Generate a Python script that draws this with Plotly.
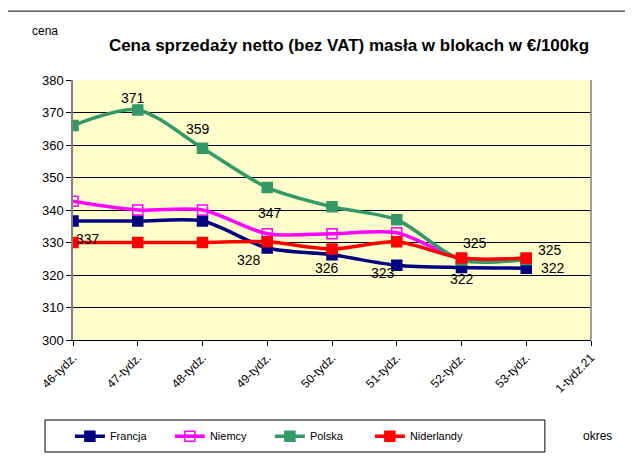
import plotly.graph_objects as go

categories = ["46-tydz.", "47-tydz.", "48-tydz.", "49-tydz.", "50-tydz.",
              "51-tydz.", "52-tydz.", "53-tydz.", "1-tydz.21"]
francja = [336.6, 336.6, 336.6, 328.3, 326.2, 323.0, 322.3, 322.1]
niemcy = [342.7, 340.0, 340.0, 332.7, 332.7, 333.0, 325.0, 325.0]
polska = [366.0, 370.8, 359.0, 346.9, 341.0, 337.0, 324.6, 324.8]
niderlandy = [330.0, 330.0, 330.0, 330.2, 328.0, 330.2, 325.2, 325.2]

series = [
    ("Francja", francja, "#000080", "square"),
    ("Niemcy", niemcy, "#FF00FF", "square-open"),
    ("Polska", polska, "#339966", "square"),
    ("Niderlandy", niderlandy, "#FF0000", "square"),
]

# data labels: (series values, category index, text, xshift, yshift)
labels = [
    (polska, 1, "371", -5, 12),
    (polska, 2, "359", -5, 19),
    (polska, 3, "347", 3, -25),
    (francja, 0, "337", 15, -18),
    (francja, 3, "328", -18, -12),
    (francja, 4, "326", -5, -13),
    (francja, 5, "323", -14, -8),
    (francja, 6, "322", 0, -11),
    (polska, 6, "325", 13, 17),
    (polska, 7, "325", 24, 9),
    (francja, 7, "322", 27, 0),
]

FONT = "Arial, Liberation Sans"

fig = go.Figure()
xs = list(range(len(categories)))
for name, vals, col, sym in series:
    fig.add_trace(go.Scatter(
        x=xs[:len(vals)], y=vals, name=name, mode="lines+markers",
        line=dict(color=col, width=3.5, shape="spline", smoothing=0.8),
        marker=dict(symbol=sym, size=10, color=col,
                    line=dict(color=col, width=1.5)),
    ))

for vals, idx, txt, dx, dy in labels:
    fig.add_annotation(x=idx, y=vals[idx], text=txt, showarrow=False,
                       xshift=dx, yshift=dy,
                       font=dict(family=FONT, size=14, color="#000"))

fig.add_annotation(xref="paper", yref="paper", x=-0.054, y=1.187, text="cena",
                   showarrow=False, xanchor="center", yanchor="middle",
                   font=dict(family=FONT, size=12, color="#000"))
fig.add_annotation(xref="paper", yref="paper", x=0.98, y=-0.37, text="okres",
                   showarrow=False, xanchor="left", yanchor="middle",
                   font=dict(family=FONT, size=12, color="#000"))

# outer chart border (left/top)
fig.add_shape(type="line", xref="paper", yref="paper", x0=-0.127, x1=-0.127,
              y0=1.265, y1=-0.6, line=dict(color="#000", width=1))
fig.add_shape(type="line", xref="paper", yref="paper", x0=-0.127, x1=1.2,
              y0=1.265, y1=1.265, line=dict(color="#000", width=1))
# plot area right border
fig.add_shape(type="line", xref="paper", yref="paper", x0=1, x1=1,
              y0=0, y1=1, line=dict(color="#808080", width=1.5))
# legend box
fig.add_shape(type="rect", xref="paper", yref="paper", x0=-0.054, x1=0.911,
              y0=-0.3077, y1=-0.4308, line=dict(color="#000", width=1))

fig.update_layout(
    width=625, height=456,
    margin=dict(l=65, r=42, t=72, b=124, autoexpand=False),
    paper_bgcolor="white",
    plot_bgcolor="#FFFFCC",
    font=dict(family=FONT, size=12, color="#000"),
    title=dict(text="<b>Cena sprzedaży netto (bez VAT) masła w blokach w €/100kg</b>",
               x=(349 - 8) / 625, xanchor="center", y=1 - (45 - 8) / 456, yanchor="middle",
               font=dict(family=FONT, size=17, color="#000")),
    showlegend=True,
    legend=dict(orientation="h", x=-0.006, y=-0.37, xanchor="left", yanchor="middle",
                borderwidth=0, bgcolor="rgba(0,0,0,0)",
                font=dict(family=FONT, size=11),
                entrywidth=55, itemwidth=30, tracegroupgap=0),
)
fig.update_xaxes(
    tickmode="array", tickvals=xs, ticktext=categories, range=[0, 8],
    tickangle=-45, ticks="outside", ticklen=5, tickcolor="#000",
    showline=True, linecolor="#000", linewidth=1, showgrid=False, zeroline=False,
    tickfont=dict(size=12), automargin=False,
)
fig.update_yaxes(
    range=[300, 380], dtick=10, ticks="outside", ticklen=5, tickcolor="#000",
    showline=True, linecolor="#808080", linewidth=1.5,
    showgrid=True, gridcolor="#000", gridwidth=1, zeroline=False,
    tickfont=dict(size=13), automargin=False,
)

fig.write_html("out.html")
